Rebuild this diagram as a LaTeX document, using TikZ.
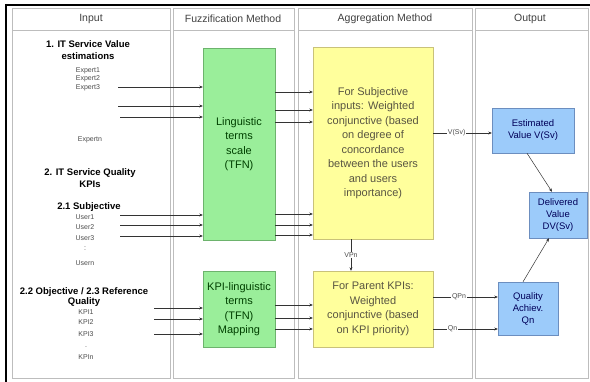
\documentclass[tikz,border=0pt]{standalone}
\usepackage{fontspec}
\setmainfont{Liberation Sans}
\usetikzlibrary{arrows.meta}

\definecolor{lanegray}{HTML}{BDBDBD}
\definecolor{fuzzfill}{HTML}{9AEE9A}
\definecolor{fuzzdraw}{HTML}{6DB36D}
\definecolor{aggfill}{HTML}{FFFF9C}
\definecolor{aggdraw}{HTML}{C9C27A}
\definecolor{outfill}{HTML}{9CCBFA}
\definecolor{outdraw}{HTML}{6C8EBF}

\begin{document}
\begin{tikzpicture}[x=1pt, y=-1pt,
    lane/.style={draw=lanegray, line width=0.9pt},
    lanehead/.style={text=black!75, font=\fontsize{10.5}{12}\selectfont},
    heading/.style={align=center, font=\bfseries\fontsize{9.5}{11.5}\selectfont},
    small/.style={text=black!70, inner sep=0pt, font=\fontsize{7}{8}\selectfont},
    fuzzbox/.style={draw=fuzzdraw, fill=fuzzfill, text=green!25!black, align=center,
        inner sep=0pt, font=\fontsize{11}{14.5}\selectfont},
    aggbox/.style={draw=aggdraw, fill=aggfill, text=yellow!25!black, align=center,
        inner sep=0pt, font=\fontsize{11}{14.5}\selectfont},
    outbox/.style={draw=outdraw, fill=outfill, text=blue!35!black, align=center,
        inner sep=0pt, font=\fontsize{9.5}{12}\selectfont},
    arr/.style={-{Stealth[length=3.5pt,width=3pt]}, draw=black!80, line width=0.5pt},
    flow/.style={fill=white, inner sep=0.6pt, text=black!70, font=\fontsize{7}{8}\selectfont}]

    \useasboundingbox (0,0) rectangle (590,382);

    % page frame
    \draw[line width=2.5pt] (5,5) -- (590,5);
    \draw[line width=2.5pt] (6,4) -- (6,382);

    % lanes
    \draw[lane] (12,8) rectangle (170,378);
    \draw[lane] (12,30) -- (170,30);
    \draw[lane] (173,8) rectangle (294,378);
    \draw[lane] (173,30) -- (294,30);
    \draw[lane] (298,8) rectangle (472,378);
    \draw[lane] (298,30) -- (472,30);
    \draw[lane] (475,8) rectangle (588,378);
    \draw[lane] (475,30) -- (588,30);

    \node[lanehead] (hinput) at (91,19) {Input};
    \node[lanehead] (hfuzz) at (233,19) {Fuzzification Method};
    \node[lanehead] (hagg) at (385,19) {Aggregation Method};
    \node[lanehead] (hout) at (530,19) {Output};

    % input lane
    \node[heading] (valhead) at (88,50) {1. IT Service Value\\estimations};
    \node[small] (expert1) at (88,71) {Expert1};
    \node[small] (expert2) at (88,79) {Expert2};
    \node[small] (expert3) at (88,88) {Expert3};
    \node[small] (expertn) at (90,140) {Expertn};

    \node[heading] (qualhead) at (90,178) {2. IT Service Quality\\KPIs};
    \node[heading] (subjhead) at (89,207) {2.1 Subjective};
    \node[small] (user1) at (85,217) {User1};
    \node[small] (user2) at (85,227) {User2};
    \node[small] (user3) at (85,238) {User3};
    \node[small] (userdots) at (85,249) {:};
    \node[small] (usern) at (85,263) {Usern};

    \node[heading, font=\bfseries\fontsize{9.5}{10.5}\selectfont] (objhead) at (84,297)
        {2.2 Objective / 2.3 Reference\\Quality};
    \node[small] (kpi1) at (86,312) {KPI1};
    \node[small] (kpi2) at (86,322) {KPI2};
    \node[small] (kpi3) at (86,334) {KPI3};
    \node[small] (kpidots) at (86,347) {.};
    \node[small] (kpin) at (86,357) {KPIn};

    % fuzzification
    \node[fuzzbox, minimum width=72pt, minimum height=192pt] (ling) at (239,144)
        {Linguistic\\terms\\scale\\(TFN)};
    \node[fuzzbox, minimum width=72pt, minimum height=76pt] (kpiling) at (239,309)
        {KPI-linguistic\\terms\\(TFN)\\Mapping};

    % aggregation
    \node[aggbox, minimum width=120pt, minimum height=192pt] (subjagg) at (373,143)
        {For Subjective\\inputs: Weighted\\conjunctive (based\\on degree of\\concordance\\between the users\\and users\\importance)};
    \node[aggbox, minimum width=120pt, minimum height=76pt] (kpiagg) at (373,309)
        {For Parent KPIs:\\Weighted\\conjunctive (based\\on KPI priority)};

    % output
    \node[outbox, minimum width=82pt, minimum height=45pt] (estval) at (533,130.5)
        {Estimated\\Value V(Sv)};
    \node[outbox, minimum width=58pt, minimum height=46pt] (delval) at (558,215)
        {Delivered\\Value\\DV(Sv)};
    \node[outbox, minimum width=60pt, minimum height=53pt] (qualach) at (528,308.5)
        {Quality\\Achiev.\\Qn};

    % inputs into fuzzification
    \coordinate (ex1) at (118,87);
    \coordinate (ex2) at (118,106);
    \coordinate (ex3) at (120,117);
    \coordinate (us1) at (120,215);
    \coordinate (us2) at (120,225);
    \coordinate (us3) at (120,236);
    \coordinate (kp1) at (154,308);
    \coordinate (kp2) at (154,319);
    \coordinate (kp3) at (154,334);
    \draw[arr] (ex1) -- (ling.west |- ex1);
    \draw[arr] (ex2) -- (ling.west |- ex2);
    \draw[arr] (ex3) -- (ling.west |- ex3);
    \draw[arr] (us1) -- (ling.west |- us1);
    \draw[arr] (us2) -- (ling.west |- us2);
    \draw[arr] (us3) -- (ling.west |- us3);
    \draw[arr] (kp1) -- (kpiling.west |- kp1);
    \draw[arr] (kp2) -- (kpiling.west |- kp2);
    \draw[arr] (kp3) -- (kpiling.west |- kp3);

    % fuzzification into aggregation
    \draw[arr] (ling.east |- 0,92) -- (subjagg.west |- 0,92);
    \draw[arr] (ling.east |- 0,110) -- (subjagg.west |- 0,110);
    \draw[arr] (ling.east |- 0,122) -- (subjagg.west |- 0,122);
    \draw[arr] (ling.east |- 0,214) -- (subjagg.west |- 0,214);
    \draw[arr] (ling.east |- 0,225) -- (subjagg.west |- 0,225);
    \draw[arr] (ling.east |- 0,235) -- (subjagg.west |- 0,235);
    \draw[arr] (kpiling.east |- 0,305) -- (kpiagg.west |- 0,305);
    \draw[arr] (kpiling.east |- 0,318) -- (kpiagg.west |- 0,318);
    \draw[arr] (kpiling.east |- 0,329) -- (kpiagg.west |- 0,329);

    \draw[arr] ([xshift=-22pt]subjagg.south) -- node[flow] {VPn} ([xshift=-22pt]kpiagg.north);

    % aggregation into output
    \draw[arr] (subjagg.east |- 0,133) -- node[flow, pos=0.4] {V(Sv)} (estval.west |- 0,133);
    \draw[arr] (kpiagg.east |- 0,297) -- node[flow, pos=0.4] {QPn} (qualach.west |- 0,297);
    \draw[arr] (kpiagg.east |- 0,329) -- node[flow, pos=0.3] {Qn} (qualach.west |- 0,329);

    \draw[arr] ([xshift=-6pt]estval.south) -- ([xshift=-6pt]delval.north);
    \draw[arr] ([xshift=-5pt]qualach.north) -- ([xshift=-9pt]delval.south);
\end{tikzpicture}
\end{document}
